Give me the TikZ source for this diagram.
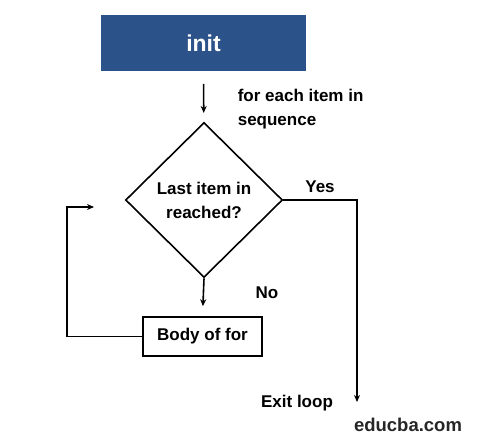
\documentclass[tikz,border=0pt]{standalone}
\usepackage{fontspec}
\setmainfont{Liberation Sans}
\usepackage{tikz}
\usetikzlibrary{arrows.meta, positioning, shapes.geometric}
\definecolor{initblue}{RGB}{43,82,137}

\begin{document}
\begin{tikzpicture}[
  x=1pt, y=-1pt,
  >={Stealth[length=7pt, width=6pt]},
  line width=1.6pt,
  txt/.style      = {font=\fontsize{17}{24}\selectfont\bfseries, align=center,
                     inner sep=0pt},
  box/.style      = {draw, txt, minimum width=119pt, minimum height=39pt},
  startbox/.style = {fill=initblue, text=white, minimum width=205pt,
                     minimum height=56pt,
                     font=\fontsize{23}{24}\selectfont\bfseries},
  decision/.style = {draw, diamond, txt, minimum width=157pt,
                     minimum height=155pt}
]
\useasboundingbox (0,0) rectangle (477,441);

\node[startbox] (init) at (203.5,43) {init};
\node[decision] (cond) at (204,200) {Last item in\\reached?};
\node[box] (body) at (202.5,336.5) {Body of for};

\node[txt, align=left, anchor=west] (each) at (237,109)
  {for each item in\\sequence};
\node[txt] (yes) at (320,187) {Yes};
\node[txt] (no) at (267,293) {No};
\node[txt] (exit) at (297,403) {Exit loop};
\node[txt, text=black!85, font=\fontsize{18.5}{22}\selectfont\bfseries]
  (site) at (408,425) {educba.com};

\coordinate (out) at (357,402);
\coordinate (bend) at (67,207);
\coordinate (back) at (94,207);

\draw[->, shorten <=12pt, shorten >=9pt] (init) -- (cond);
\draw[->, shorten >=10pt] (cond.south) -- (body.north);
\draw[->] (cond.east) -| (out);
\draw[->] (body.west) -| (bend) -- (back);
\end{tikzpicture}
\end{document}
